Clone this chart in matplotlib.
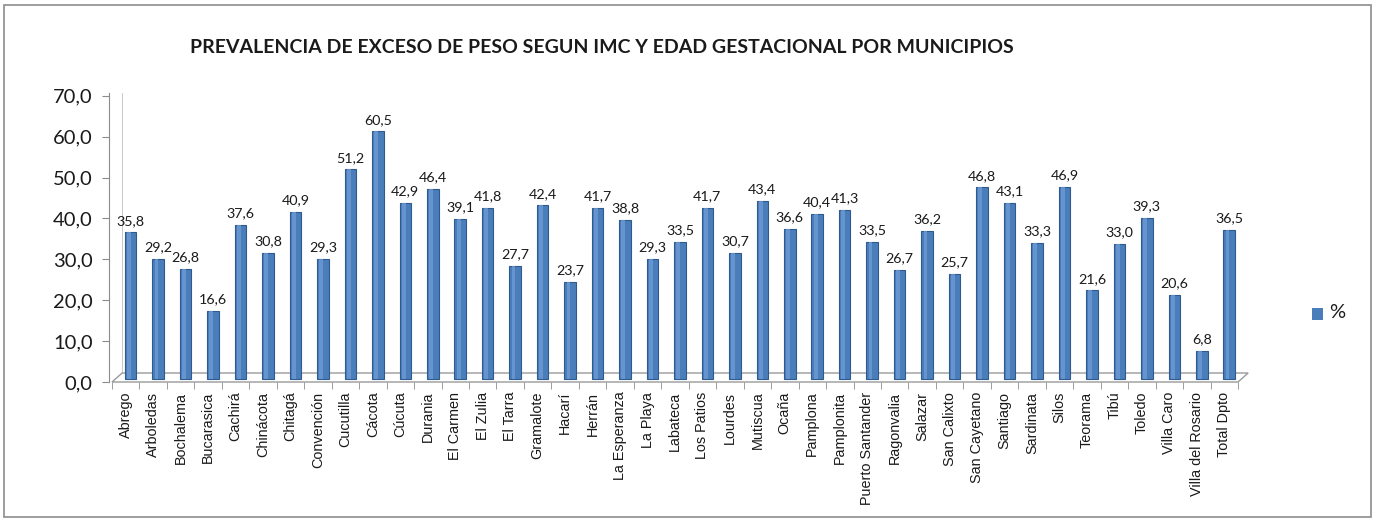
import matplotlib
matplotlib.use("Agg")
import matplotlib.pyplot as plt
from matplotlib.patches import Rectangle, Polygon
import numpy as np

municipios = ["Abrego", "Arboledas", "Bochalema", "Bucarasica", "Cachirá", "Chinácota",
              "Chitagá", "Convención", "Cucutilla", "Cácota", "Cúcuta", "Durania",
              "El Carmen", "El Zulia", "El Tarra", "Gramalote", "Hacarí", "Herrán",
              "La Esperanza", "La Playa", "Labateca", "Los Patios", "Lourdes", "Mutiscua",
              "Ocaña", "Pamplona", "Pamplonita", "Puerto Santander", "Ragonvalia", "Salazar",
              "San Calixto", "San Cayetano", "Santiago", "Sardinata", "Silos", "Teorama",
              "Tibú", "Toledo", "Villa Caro", "Villa del Rosario", "Total Dpto"]
porcentaje = [35.8, 29.2, 26.8, 16.6, 37.6, 30.8, 40.9, 29.3, 51.2, 60.5, 42.9, 46.4,
              39.1, 41.8, 27.7, 42.4, 23.7, 41.7, 38.8, 29.3, 33.5, 41.7, 30.7, 43.4,
              36.6, 40.4, 41.3, 33.5, 26.7, 36.2, 25.7, 46.8, 43.1, 33.3, 46.9, 21.6,
              33.0, 39.3, 20.6, 6.8, 36.5]
y_ticks = [0, 10, 20, 30, 40, 50, 60, 70]
titulo = "PREVALENCIA DE EXCESO DE PESO SEGUN IMC Y EDAD GESTACIONAL POR MUNICIPIOS"
serie = "%"

W, H = 1375, 521
fig = plt.figure(figsize=(W / 100, H / 100), dpi=100)
fig.patch.set_facecolor("white")

# outer chart border
fig.add_artist(Rectangle((4 / W, 4 / H), (W - 8) / W, (H - 9) / H, transform=fig.transFigure,
                         fill=False, edgecolor="#8c8c8c", linewidth=1.2))

ax = fig.add_axes([112 / W, (H - 382) / H, (1238 - 112) / W, (382 - 93) / H])
n = len(municipios)
x = np.arange(n)
ax.set_xlim(-0.5, n - 0.5)
ax.set_ylim(0, 70.7)

# 3D floor
dx, dy = 0.37, 2.2
floor = Polygon([(-0.5, 0), (n - 0.5, 0), (n - 0.5 + dx, dy), (-0.5 + dx, dy)], closed=True,
                facecolor="white", edgecolor="#9a9a9a", linewidth=1.0, clip_on=False, zorder=1)
ax.add_patch(floor)
ax.plot([-0.5 + dx, -0.5 + dx], [dy, 70.7], color="#bfbfbf", linewidth=0.6, clip_on=False, zorder=0.5)

bar_c = x + 0.18
ax.bar(bar_c, porcentaje, width=0.42, bottom=0.8, color="#4A7EBB", edgecolor="#2E5A8E",
       linewidth=0.8, zorder=3)
ax.bar(bar_c - 0.06, porcentaje, width=0.14, bottom=0.8, color="#6E9AD3", linewidth=0, zorder=4,
       alpha=0.8)

for xi, v in zip(bar_c, porcentaje):
    ax.text(xi, v + 2.2, f"{v:.1f}".replace(".", ","), ha="center", va="bottom",
            fontsize=10.3, family="Lato", color="#1a1a1a", zorder=5)

for s in ["top", "right", "bottom"]:
    ax.spines[s].set_visible(False)
ax.spines["left"].set_color("#8c8c8c")
ax.spines["left"].set_position(("outward", 2))
ax.set_yticks(y_ticks)
ax.set_yticklabels([f"{t:.1f}".replace(".", ",") for t in y_ticks], fontsize=14.5, family="Lato",
                   color="#1a1a1a")
ax.tick_params(axis="y", length=5, color="#8c8c8c", pad=7)

ax.set_xticks(x)
ax.set_xticklabels(municipios, rotation=90, fontsize=10.4, family="Liberation Sans", color="#1a1a1a")
ax.tick_params(axis="x", length=0, pad=7)
ax.set_xticks(np.arange(n + 1) - 0.5, minor=True)
ax.tick_params(axis="x", which="minor", length=5, color="#8c8c8c", direction="out")
ax.spines["bottom"].set_visible(False)
ax.set_facecolor("none")

fig.text(602 / W, 1 - 47 / H, titulo, ha="center", va="center", fontsize=14,
         family="Lato", fontweight="bold", color="#1a1a1a")

# legend
fig.add_artist(Rectangle((1312 / W, 1 - 320 / H), 11 / W, 12 / H, transform=fig.transFigure,
                         facecolor="#4A7EBB", edgecolor="none"))
fig.text(1329 / W, 1 - 313 / H, serie, ha="left", va="center", fontsize=14.5, family="Lato",
         color="#1a1a1a")

fig.savefig("out.png", dpi=100)
